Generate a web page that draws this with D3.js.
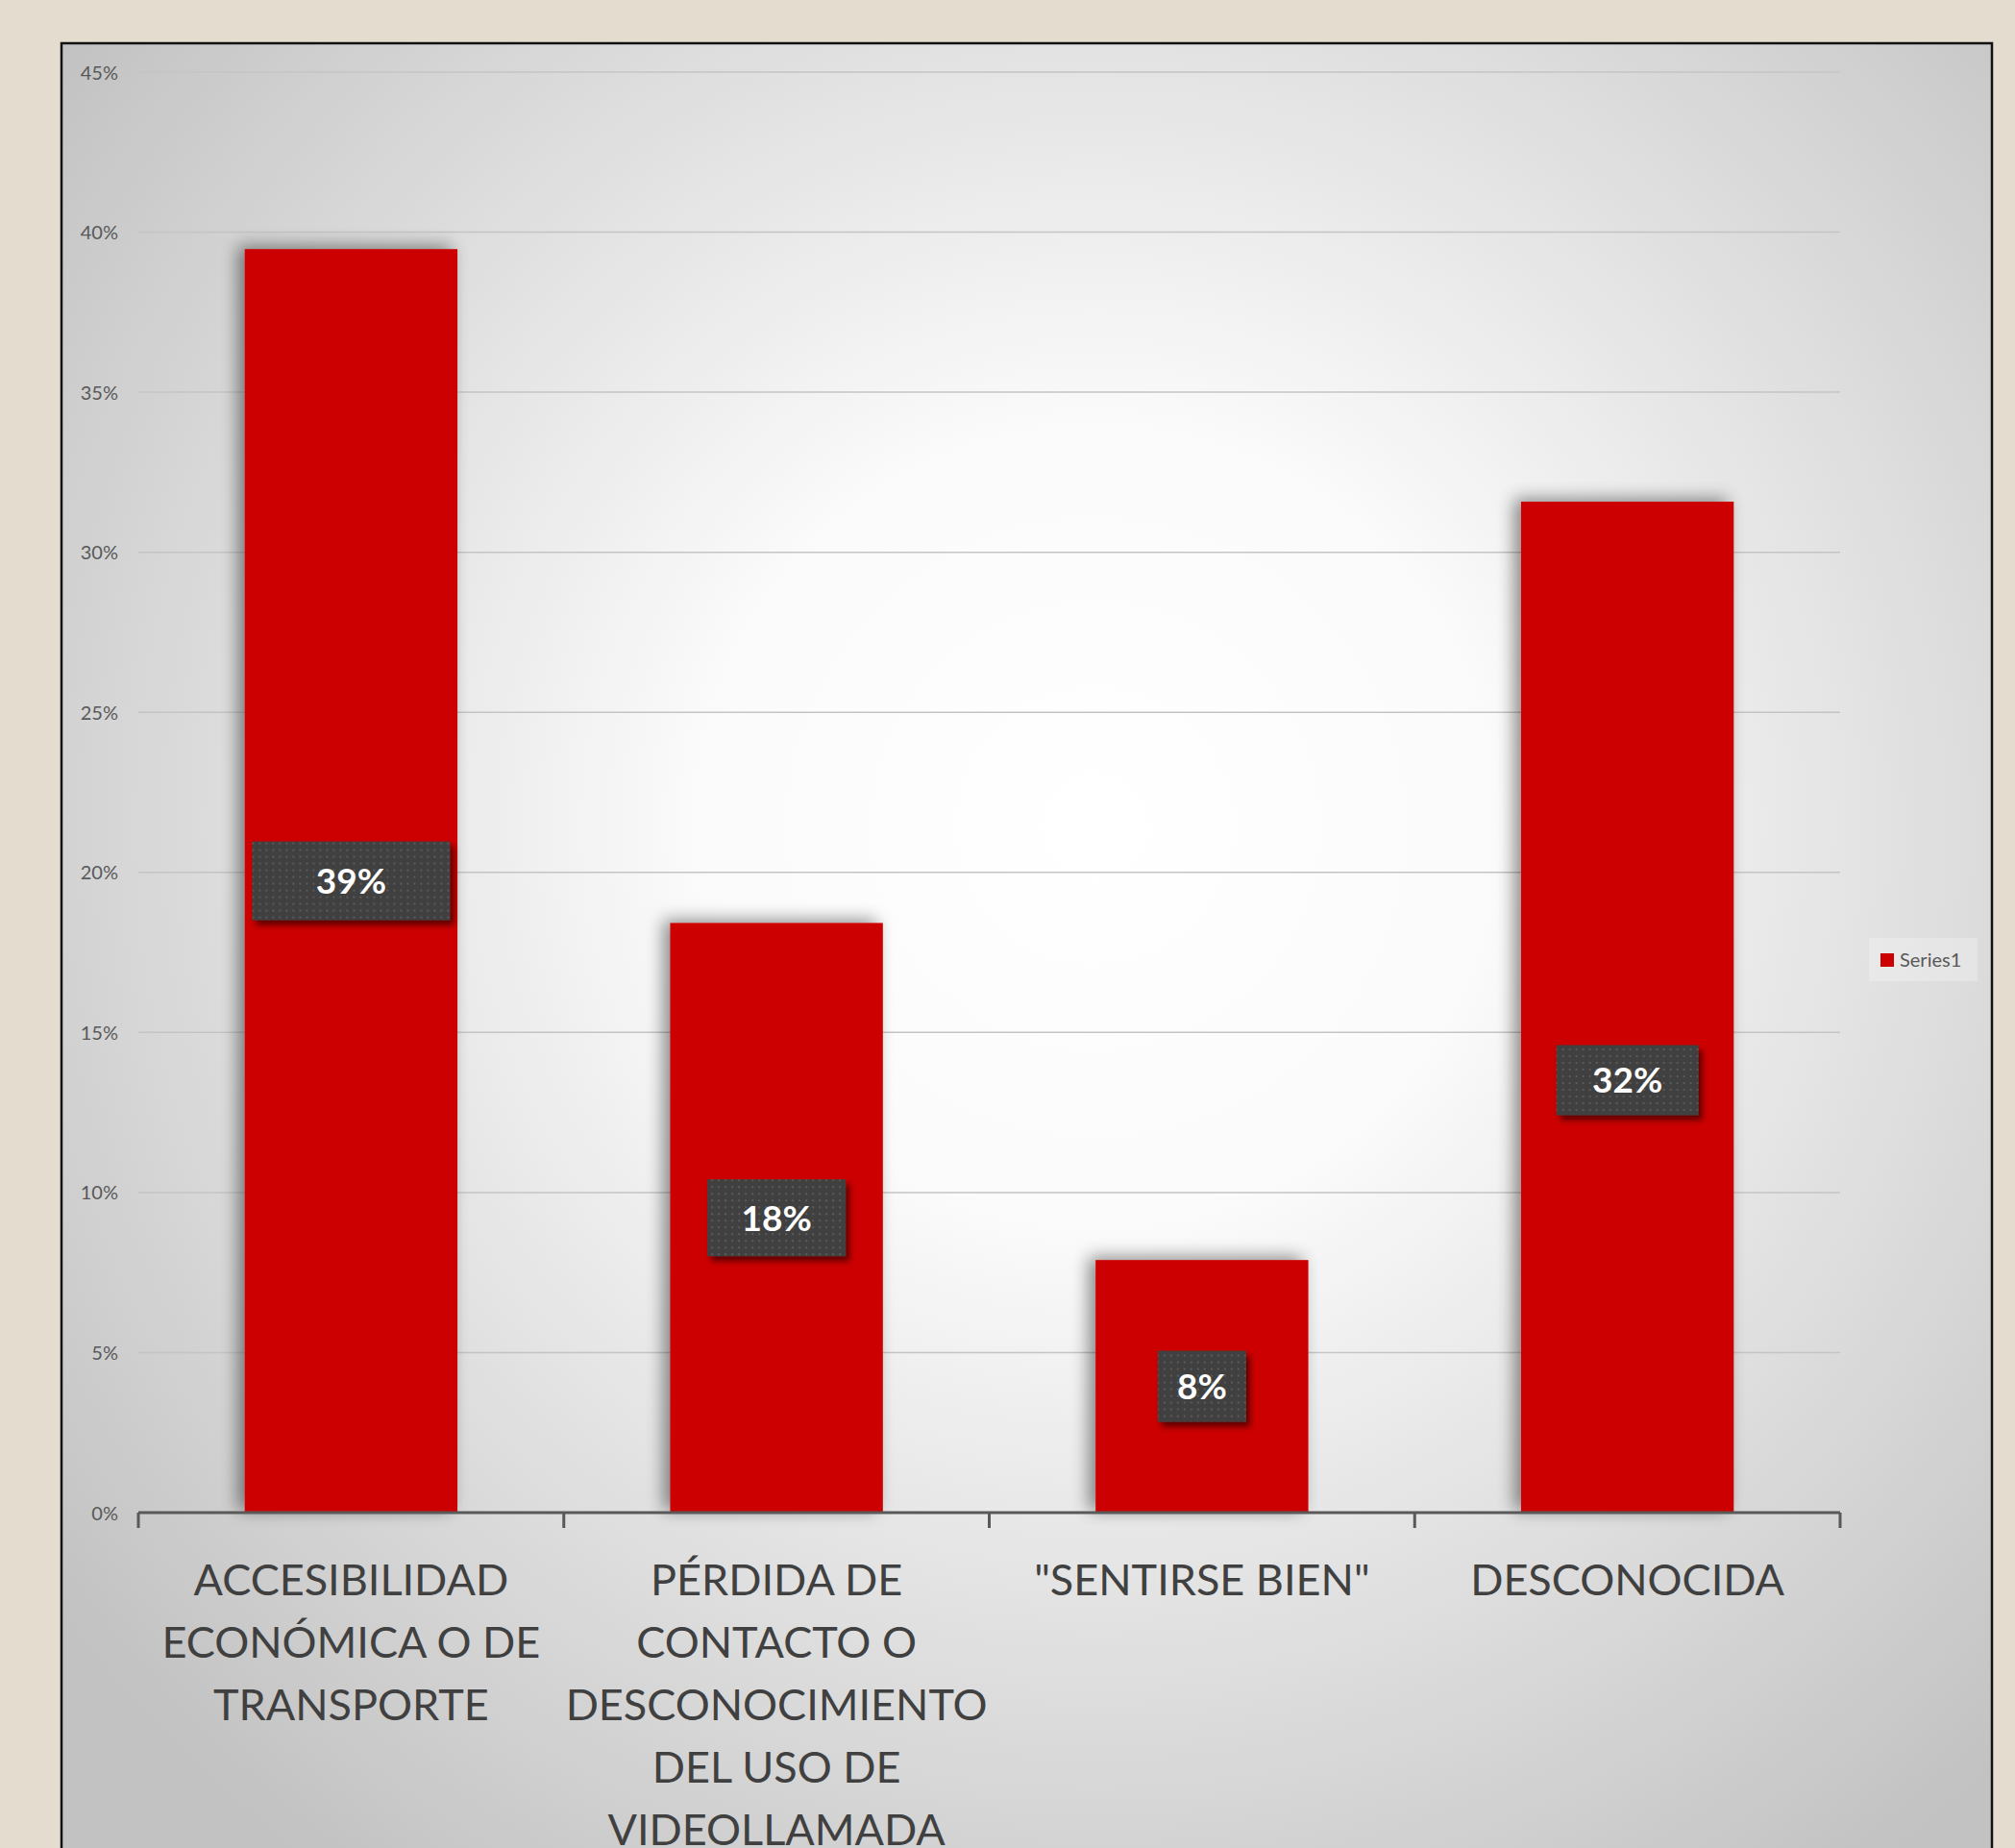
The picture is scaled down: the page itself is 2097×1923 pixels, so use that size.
<!DOCTYPE html>
<html><head><meta charset="utf-8">
<script src="https://cdn.jsdelivr.net/npm/d3@7"></script>
<style>html,body{margin:0;padding:0;background:#E3DCCF;overflow:hidden} svg{display:block}</style>
</head><body>
<svg id="chart" width="2097" height="1923"></svg>
<script>
// ---- data ----
const categories = ["ACCESIBILIDAD ECONÓMICA O DE TRANSPORTE", "PÉRDIDA DE CONTACTO O DESCONOCIMIENTO DEL USO DE VIDEOLLAMADA", "\"SENTIRSE BIEN\"", "DESCONOCIDA"];
const categoryLines = [
  ["ACCESIBILIDAD", "ECONÓMICA O DE", "TRANSPORTE"],
  ["PÉRDIDA DE", "CONTACTO O", "DESCONOCIMIENTO", "DEL USO DE", "VIDEOLLAMADA"],
  ["\"SENTIRSE BIEN\""],
  ["DESCONOCIDA"]
];
const values = [0.3947, 0.1842, 0.0789, 0.3158];
const valueLabels = ["39%", "18%", "8%", "32%"];
const yTickValues = [0, 0.05, 0.10, 0.15, 0.20, 0.25, 0.30, 0.35, 0.40, 0.45];
const yTickLabels = ["0%", "5%", "10%", "15%", "20%", "25%", "30%", "35%", "40%", "45%"];
const seriesName = "Series1";

// ---- style / layout ----
const labelBoxW = [206, 144, 92, 148];
const labelBoxH = [82, 80, 74, 73];
const labelDy = [0, 0, 0, 76];
const RED = "#CC0000";

const svg = d3.select("#chart");
const defs = svg.append("defs");

const bg = defs.append("radialGradient").attr("id", "bgGrad")
  .attr("gradientUnits", "userSpaceOnUse")
  .attr("cx", 1140).attr("cy", 860).attr("r", 1350);
bg.append("stop").attr("offset", "0").attr("stop-color", "#ffffff");
bg.append("stop").attr("offset", "0.3").attr("stop-color", "#fbfbfb");
bg.append("stop").attr("offset", "1").attr("stop-color", "#c2c2c2");

const barShadow = defs.append("filter").attr("id", "barShadow")
  .attr("x", "-30%").attr("y", "-10%").attr("width", "160%").attr("height", "120%");
barShadow.append("feGaussianBlur").attr("in", "SourceAlpha").attr("stdDeviation", 9).attr("result", "b");
barShadow.append("feOffset").attr("in", "b").attr("dx", -7).attr("dy", -3).attr("result", "o");
barShadow.append("feComponentTransfer").attr("in", "o").attr("result", "o2")
  .append("feFuncA").attr("type", "linear").attr("slope", 0.45);
const bm = barShadow.append("feMerge");
bm.append("feMergeNode").attr("in", "o2");
bm.append("feMergeNode").attr("in", "SourceGraphic");

const boxShadow = defs.append("filter").attr("id", "boxShadow")
  .attr("x", "-20%").attr("y", "-20%").attr("width", "150%").attr("height", "150%");
boxShadow.append("feGaussianBlur").attr("in", "SourceAlpha").attr("stdDeviation", 3).attr("result", "b");
boxShadow.append("feOffset").attr("in", "b").attr("dx", 4).attr("dy", 5).attr("result", "o");
boxShadow.append("feComponentTransfer").attr("in", "o").attr("result", "o2")
  .append("feFuncA").attr("type", "linear").attr("slope", 0.55);
const bxm = boxShadow.append("feMerge");
bxm.append("feMergeNode").attr("in", "o2");
bxm.append("feMergeNode").attr("in", "SourceGraphic");

const pat = defs.append("pattern").attr("id", "dots").attr("patternUnits", "userSpaceOnUse")
  .attr("width", 7).attr("height", 7);
pat.append("rect").attr("width", 7).attr("height", 7).attr("fill", "#414141");
pat.append("rect").attr("x", 2).attr("y", 2).attr("width", 2).attr("height", 2).attr("fill", "#5a5a5a");

// frame
svg.append("rect").attr("x", 0).attr("y", 0).attr("width", 2097).attr("height", 1923).attr("fill", "#E3DCCF");
svg.append("rect").attr("x", 64).attr("y", 45).attr("width", 2009).attr("height", 1900)
  .attr("fill", "url(#bgGrad)").attr("stroke", "#111").attr("stroke-width", 2.5);

const x = d3.scaleBand().domain(d3.range(categories.length)).range([144, 1915])
  .paddingInner(0.5).paddingOuter(0.25);
const y = d3.scaleLinear().domain([0, 0.45]).range([1574, 75]);

// gridlines
svg.append("g").selectAll("line").data(yTickValues.filter(v => v > 0)).join("line")
  .attr("x1", 144).attr("x2", 1915)
  .attr("y1", d => y(d)).attr("y2", d => y(d))
  .attr("stroke", "#c4c4c4").attr("stroke-width", 1.5);

// y labels
const yAxis = d3.axisLeft(y).tickValues(yTickValues).tickFormat((d, i) => yTickLabels[i]).tickSize(0).tickPadding(0);
const ya = svg.append("g").attr("transform", "translate(123,0)").call(yAxis);
ya.select(".domain").remove();
ya.selectAll("text").attr("font-family", "Lato, 'Open Sans', sans-serif").attr("font-size", 20)
  .attr("fill", "#595959").attr("dy", "0.35em");

// bars
svg.append("g").selectAll("rect").data(values).join("rect")
  .attr("x", (d, i) => x(i)).attr("width", x.bandwidth())
  .attr("y", d => y(d)).attr("height", d => y(0) - y(d))
  .attr("fill", RED).attr("filter", "url(#barShadow)");

// x axis
const xAxis = d3.axisBottom(x).tickSize(0).tickFormat("");
const xa = svg.append("g").attr("transform", `translate(0,${y(0)})`).call(xAxis);
xa.select(".domain").attr("stroke", "#595959").attr("stroke-width", 3).attr("d", `M144,0H1915`);
const bounds = d3.range(categories.length + 1).map(i => 144 + i * x.step());
xa.selectAll(".bound").data(bounds).join("line").attr("class", "bound")
  .attr("x1", d => d).attr("x2", d => d).attr("y1", 0).attr("y2", 16)
  .attr("stroke", "#595959").attr("stroke-width", 3);

// category labels
const catG = svg.append("g");
categoryLines.forEach((lines, i) => {
  const t = catG.append("text")
    .attr("x", x(i) + x.bandwidth() / 2).attr("y", 1660)
    .attr("text-anchor", "middle")
    .attr("font-family", "Lato, 'Open Sans', sans-serif").attr("font-size", 45)
    .attr("fill", "#404040");
  lines.forEach((ln, j) => {
    t.append("tspan").attr("x", x(i) + x.bandwidth() / 2).attr("y", 1660 + j * 65).text(ln);
  });
});

// data labels
const lg = svg.append("g").selectAll("g").data(values).join("g")
  .attr("transform", (d, i) => `translate(${x(i) + x.bandwidth() / 2},${(y(d) + y(0)) / 2 + labelDy[i]})`);
lg.append("rect")
  .attr("x", (d, i) => -labelBoxW[i] / 2).attr("y", (d, i) => -labelBoxH[i] / 2)
  .attr("width", (d, i) => labelBoxW[i]).attr("height", (d, i) => labelBoxH[i])
  .attr("fill", "url(#dots)").attr("filter", "url(#boxShadow)");
lg.append("text").attr("text-anchor", "middle").attr("dy", "0.36em")
  .attr("font-family", "Lato, 'Open Sans', sans-serif").attr("font-weight", "bold").attr("font-size", 37)
  .attr("fill", "#ffffff").text((d, i) => valueLabels[i]);

// legend
const leg = svg.append("g").attr("transform", "translate(1945,976)");
leg.append("rect").attr("width", 113).attr("height", 45).attr("fill", "#ffffff").attr("fill-opacity", 0.25);
leg.append("rect").attr("x", 12).attr("y", 16).attr("width", 14).attr("height", 14).attr("fill", RED);
leg.append("text").attr("x", 32).attr("y", 23).attr("dy", "0.35em")
  .attr("font-family", "Lato, 'Open Sans', sans-serif").attr("font-size", 20).attr("fill", "#595959")
  .text(seriesName);
</script>
</body></html>
